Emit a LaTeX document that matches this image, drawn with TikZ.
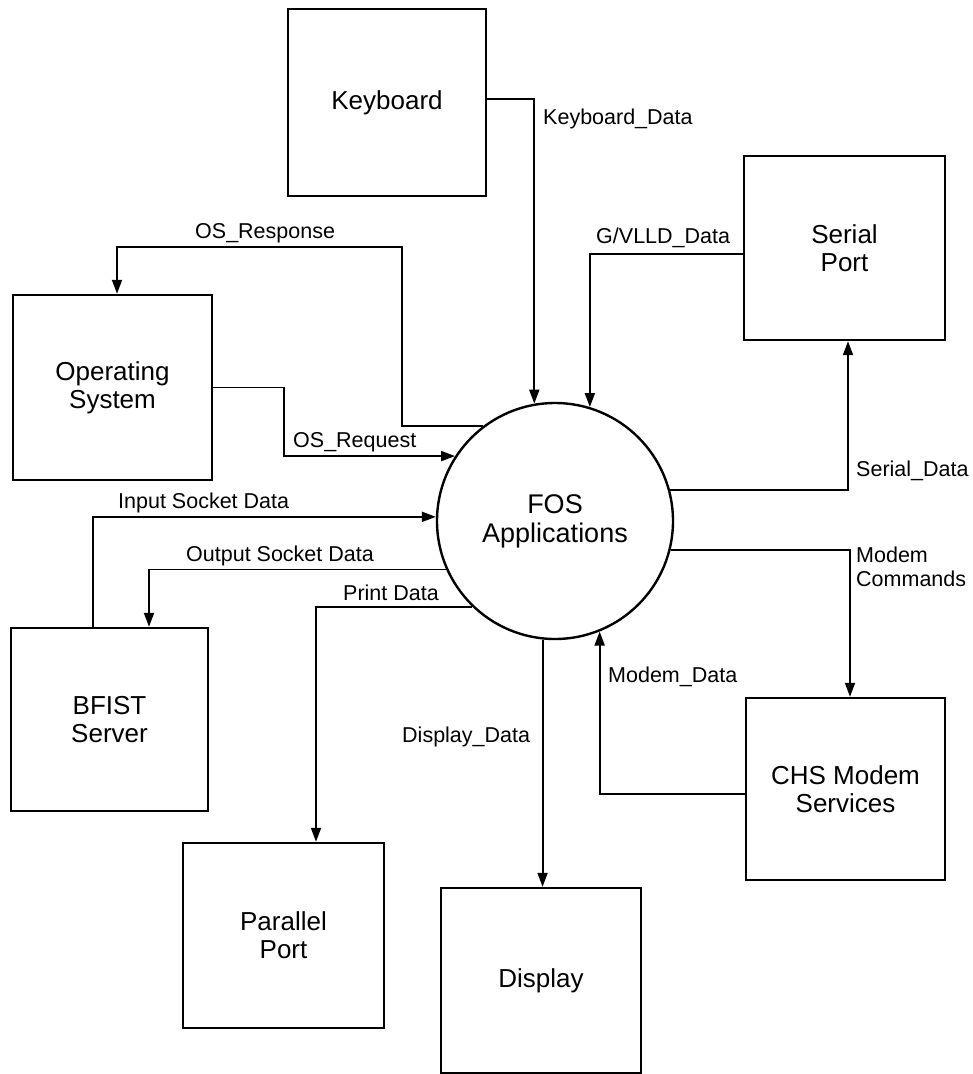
\documentclass[tikz,border=0pt]{standalone}
\usepackage{fontspec}
\setmainfont{Liberation Sans}
\usetikzlibrary{arrows.meta}

\tikzset{
  entity/.style={draw, line width=2.4pt, minimum width=#1, inner sep=0pt, align=center,
                 font=\fontsize{26}{28}\selectfont},
  process/.style={draw, circle, line width=2.4pt, minimum size=236pt, inner sep=0pt, align=center,
                  font=\fontsize{27}{29}\selectfont},
  flow/.style={line width=1.9pt, -{Triangle[length=14pt,width=10pt]}},
  lbl/.style={inner sep=0pt, anchor=west, font=\fontsize{21.5}{24}\selectfont, align=left}
}

\begin{document}
\begin{tikzpicture}[x=1pt,y=-1pt]
\useasboundingbox (0,0) rectangle (973,1074);

% external entities
\node[entity=198pt, minimum height=187pt] (kb) at (387,102.5) {Keyboard};
\node[entity=201pt, minimum height=184pt] (sp) at (844.5,248) {Serial\\Port};
\node[entity=199pt, minimum height=185pt] (os) at (112.5,387.5) {Operating\\System};
\node[entity=197pt, minimum height=183pt] (bf) at (109.5,719.5) {BFIST\\Server};
\node[entity=199pt, minimum height=182pt] (chs) at (845.5,789) {CHS Modem\\Services};
\node[entity=201pt, minimum height=185pt] (pp) at (283.5,935.5) {Parallel\\Port};
\node[entity=200pt, minimum height=185pt] (disp) at (541,980.5) {Display};

% central process
\node[process] (fos) at (555,521) {FOS\\Applications};

% bend point of the response loop
\coordinate (resp) at (402,247);

% data flows
\draw[flow] ([yshift=3.5pt]kb.east) -| (fos.100);
\draw[flow] ([yshift=-6pt]sp.west) -| (fos.73);
\draw[flow] (fos.15) -| ([xshift=3.5pt]sp.south);
\draw[flow] (fos.-14) -| ([xshift=4.5pt]chs.north);
\draw[flow] ([yshift=-5pt]chs.west) -| (fos.-68);
\draw[flow] (fos.-96) -- (fos.-96 |- disp.north);
\draw[flow] (fos.226) -| ([xshift=32.5pt]pp.north);
\draw[flow] (fos.204) -| ([xshift=39.5pt]bf.north);
\draw[flow] ([xshift=-16.5pt]bf.north) |- (fos.178);
\draw[flow] (os.east) -- ++(71,0) |- (fos.147);
\draw[flow] (fos.127) -| (resp) -| ([xshift=4.5pt]os.north);

% flow labels
\node[lbl] (lkb) at (543,119) {Keyboard\_Data};
\node[lbl] (lgv) at (596,238) {G/VLLD\_Data};
\node[lbl] (lsd) at (856,471) {Serial\_Data};
\node[lbl, anchor=north west] (lmc) at (856,547) {Modem\\Commands};
\node[lbl] (lmd) at (608,677) {Modem\_Data};
\node[lbl] (ldd) at (402,737) {Display\_Data};
\node[lbl] (lpd) at (343,593) {Print Data};
\node[lbl] (los) at (186,556) {Output Socket Data};
\node[lbl] (lis) at (118,503) {Input Socket Data};
\node[lbl] (lrq) at (293,442) {OS\_Request};
\node[lbl] (lrs) at (195,233) {OS\_Response};
\end{tikzpicture}
\end{document}
